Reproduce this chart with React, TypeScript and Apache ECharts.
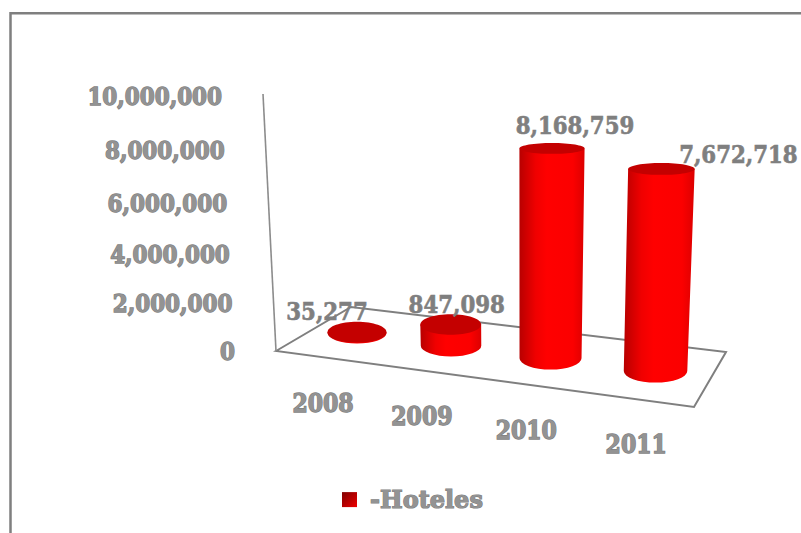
import React, { useEffect, useRef } from "react";
import * as echarts from "echarts";

const categories = ["2008", "2009", "2010", "2011"];
const values = [35277, 847098, 8168759, 7672718];
const tickValues = [0, 2000000, 4000000, 6000000, 8000000, 10000000];
const seriesName = "-Hoteles";

const FONT_FAMILY = '"DejaVu Serif", serif';
const GREY = "#7f7f7f";
const FILL = "#939393";

// Hand-placed offsets of the value labels from the top of their cylinder
const labelDx = [-30, 6, 23, 77];
const labelDy = [-21, -20, -23, -14];

const fmt = (v: number) => v.toLocaleString("en-US");

const sideGradient = new echarts.graphic.LinearGradient(0, 0, 1, 0, [
  { offset: 0, color: "#b80000" },
  { offset: 0.25, color: "#f00000" },
  { offset: 0.42, color: "#ff0000" },
  { offset: 0.82, color: "#fb0000" },
  { offset: 1, color: "#dc0000" },
]);

// Tall outlined serif text, as in the picture: scaled about its own anchor.
function tallText(
  text: string,
  x: number,
  y: number,
  size: number,
  align: string,
  fill: string,
  lineWidth: number
) {
  return {
    type: "text",
    x,
    y,
    scaleY: 1.14,
    style: {
      text,
      x: 0,
      y: 0,
      align,
      verticalAlign: "middle",
      fill,
      stroke: GREY,
      lineWidth,
      font: `bold ${size}px ${FONT_FAMILY}`,
    },
  };
}

function renderCylinder(params: any, api: any) {
  const i = api.value(0);
  const v = api.value(1);
  const [gx, gy0] = api.coord([i, 0]);
  const [, gyV] = api.coord([i, v]);
  const bx = gx + 2.75 * i * i;
  const by = gy0 - 18 + 12.67 * i;
  const h = (gy0 - gyV) * (1 + 0.025 * (i - 2));
  const tx = bx + 0.00021 * (bx - 517) * h;
  const ty = by - h;
  const rxB = 29.5 + 0.75 * i;
  const rxT = rxB + h * 0.0075;
  const ryOf = (y: number) => 5.4 + 0.0275 * (y - 148);
  const ryB = ryOf(by);
  const ryT = ryOf(ty);
  const side =
    `M${tx - rxT} ${ty} L${bx - rxB} ${by} ` +
    `A${rxB} ${ryB} 0 0 0 ${bx + rxB} ${by} ` +
    `L${tx + rxT} ${ty} Z`;
  return {
    type: "group",
    children: [
      { type: "path", shape: { pathData: side }, style: { fill: sideGradient } },
      {
        type: "ellipse",
        shape: { cx: tx, cy: ty, rx: rxT, ry: ryT },
        style: { fill: "#c40000" },
      },
      tallText(fmt(v), tx + labelDx[i], ty + labelDy[i], 21.3, "center", GREY, 0.6),
      tallText(categories[i], bx - 34 + 4.9 * i, by + 70 + 1.0 * i, 22, "center", FILL, 1.2),
    ],
  };
}

function renderTick(params: any, api: any) {
  const v = api.value(0);
  const [, gy] = api.coord([0, v]);
  const [, gy0] = api.coord([0, 0]);
  const f = (gy0 - gy) / (gy0 - api.coord([0, 10000000])[1]);
  const m = f * 5;
  const y = gy + 0.8 * m * (5 - m) + 2 * f;
  return tallText(fmt(v), 235 - 13 * f, y, 21.5, "right", FILL, 1.2);
}

export default function App() {
  const ref = useRef<HTMLDivElement>(null);
  useEffect(() => {
    const chart = echarts.init(ref.current!, null, { renderer: "svg" });
    const lineStyle = { stroke: GREY, lineWidth: 2 };
    chart.setOption({
      animation: false,
      backgroundColor: "#ffffff",
      grid: { left: 311.4, top: 94, width: 365, height: 257 },
      xAxis: { type: "category", data: categories, show: false },
      yAxis: { type: "value", min: 0, max: 10000000, interval: 2000000, show: false },
      legend: {
        show: true,
        left: 337,
        top: 482,
        icon: "rect",
        itemWidth: 15,
        itemHeight: 15,
        data: [seriesName],
        textStyle: {
          fontFamily: FONT_FAMILY,
          fontWeight: "bold",
          fontSize: 24,
          color: FILL,
          textBorderColor: GREY,
          textBorderWidth: 1.2,
          padding: [0, 0, 0, 8],
        },
      },
      graphic: [
        {
          type: "polyline",
          z: 0,
          silent: true,
          shape: { points: [[801, 13.3], [10.5, 13.3], [10.5, 533]] },
          style: { ...lineStyle, fill: "none", lineWidth: 2.5 },
        },
        {
          type: "polygon",
          z: 0,
          silent: true,
          shape: { points: [[276, 351], [351, 307], [726, 352], [694, 407]] },
          style: { ...lineStyle, fill: "#ffffff" },
        },
        {
          type: "line",
          z: 0,
          silent: true,
          shape: { x1: 263, y1: 94, x2: 276, y2: 351 },
          style: { stroke: "#8c8c8c", lineWidth: 1.6 },
        },
      ],
      series: [
        {
          type: "custom",
          name: seriesName,
          z: 5,
          renderItem: renderCylinder,
          encode: { x: 0, y: 1 },
          itemStyle: {
            color: new echarts.graphic.LinearGradient(0, 0, 1, 1, [
              { offset: 0, color: "#800000" },
              { offset: 0.6, color: "#c00000" },
              { offset: 1, color: "#f00000" },
            ]),
          },
          data: values.map((v, i) => [i, v]),
        },
        {
          type: "custom",
          name: "ticks",
          z: 5,
          renderItem: renderTick,
          encode: { y: 0 },
          data: tickValues.map((v) => [v]),
        },
      ],
    });
    return () => chart.dispose();
  }, []);
  return (
    <div
      ref={ref}
      style={{ position: "absolute", left: 0, top: 0, width: 801, height: 533 }}
    />
  );
}
